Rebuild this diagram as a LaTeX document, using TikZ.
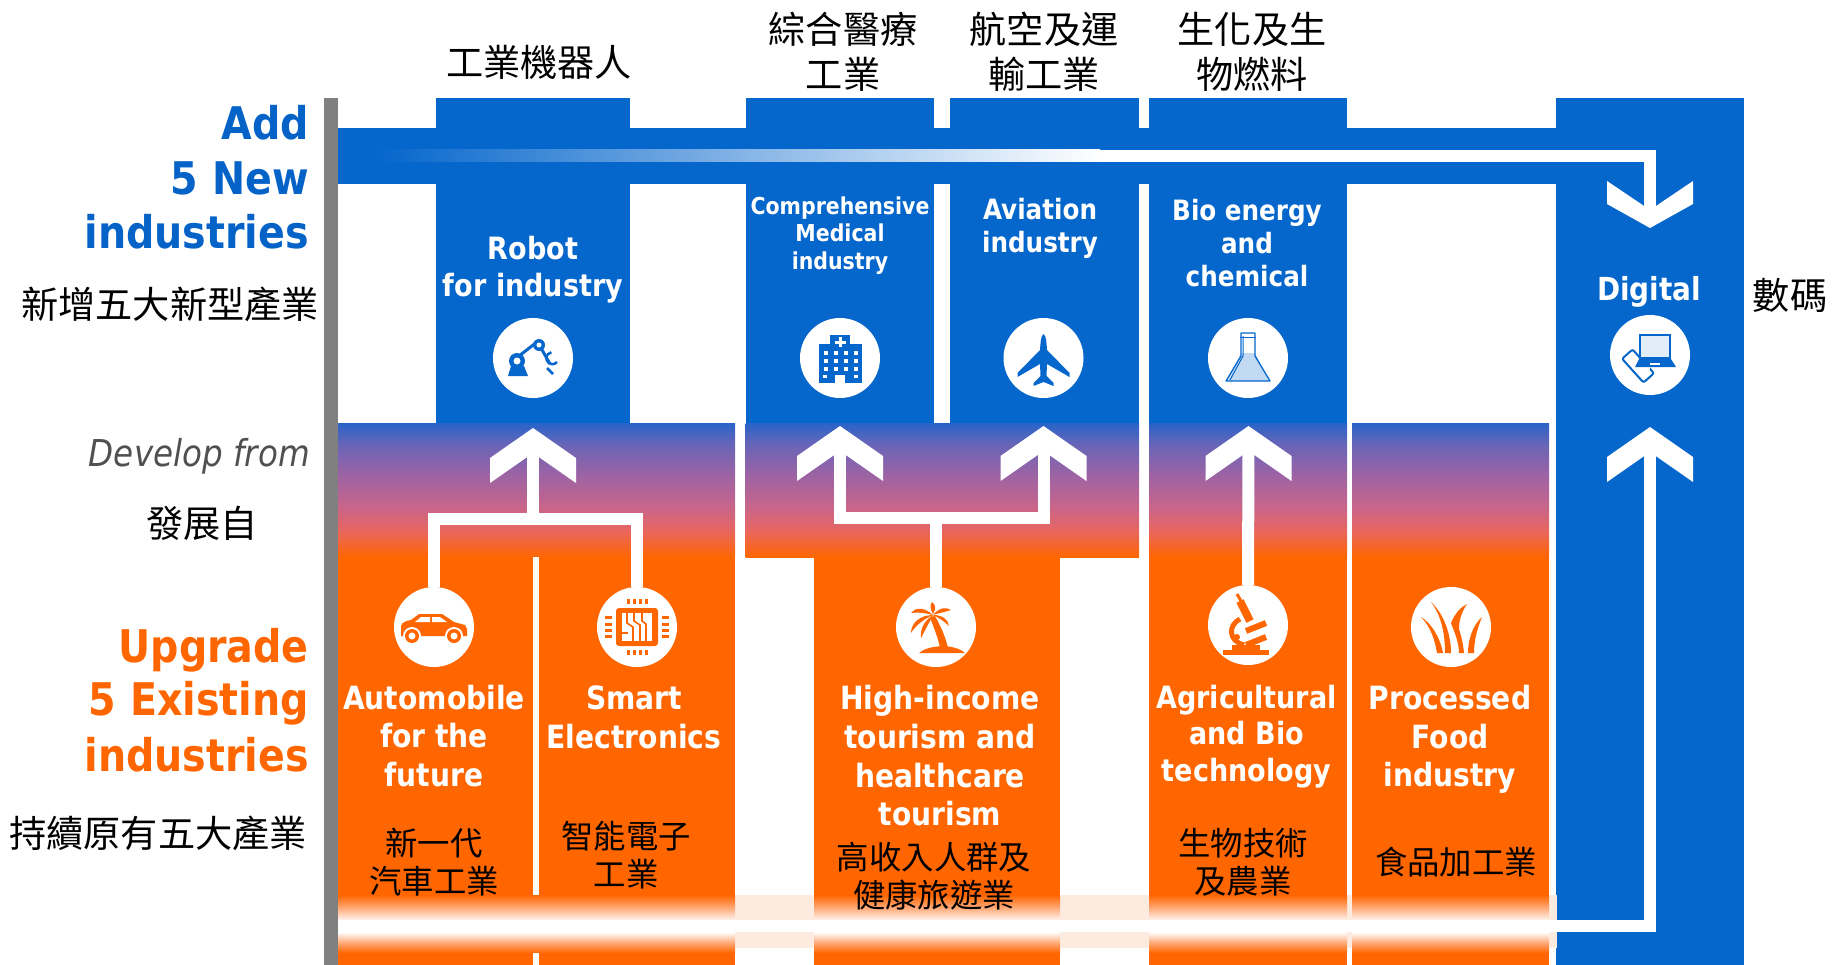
\documentclass[tikz,border=0pt]{standalone}
\usepackage{fontspec}
\newfontfamily\labfont[FakeStretch=0.88]{DejaVu Sans}
\newfontfamily\cjkfont{Noto Sans CJK TC}
\definecolor{indblue}{HTML}{0566CC}
\definecolor{indorange}{HTML}{FF6600}
\definecolor{peach}{HTML}{FDEBDF}
\definecolor{barblue}{HTML}{0563C8}
\definecolor{dgray}{HTML}{505050}
\definecolor{gradA}{HTML}{2864C8}
\definecolor{gradB}{HTML}{6565B8}
\definecolor{gradC}{HTML}{9B63A5}
\definecolor{gradD}{HTML}{C8658A}
\definecolor{gradE}{HTML}{E86660}
\definecolor{bandA}{HTML}{FFAA78}
\definecolor{bandB}{HTML}{FFF4EE}
\pgfdeclareverticalshading{riseblend}{100bp}{color(0bp)=(indorange); color(25bp)=(indorange);
 color(35bp)=(gradE); color(43.75bp)=(gradD);
 color(56.25bp)=(gradC); color(67.5bp)=(gradB);
 color(75bp)=(gradA); color(100bp)=(gradA)}
\pgfdeclareverticalshading{bandblend}{100bp}{color(0bp)=(indorange); color(25bp)=(indorange);
 color(34bp)=(bandA); color(43bp)=(white); color(53.5bp)=(bandB);
 color(64bp)=(bandA); color(75bp)=(indorange); color(100bp)=(indorange)}
\tikzset{
 wlab/.style 2 args={text=white,align=center,inner sep=0pt,font=\labfont\bfseries\fontsize{#1}{#2}\selectfont},
 cjkbig/.style={text=black,align=center,inner sep=0pt,font=\cjkfont\fontsize{37.2}{45}\selectfont},
 cjksmall/.style={text=black,align=center,inner sep=0pt,font=\cjkfont\fontsize{32.4}{38}\selectfont},
 headlab/.style 2 args={text=#1,align=right,anchor=east,inner sep=0pt,font=\labfont\bfseries\fontsize{#2}{#2}\selectfont},
 iconbase/.style={circle,fill=white,minimum size=80pt,inner sep=0pt},
 conn/.style={draw=white,line width=12pt,line join=miter},
 chevup/.pic={\fill[white] (0,0)--(43,30)--(43,55)--(0,25)--(-43,55)--(-43,30)--cycle;},
 chevdown/.pic={\fill[white] (0,0)--(43,-24)--(43,-47)--(0,-18)--(-43,-47)--(-43,-24)--cycle;},
}
\begin{document}
\begin{tikzpicture}[x=1pt,y=-1pt]
\useasboundingbox (0,0) rectangle (1835,965);
% grey axis
\fill[gray] (324,98) rectangle (338,965);
% blue structure
\fill[indblue] (338,128) rectangle (1556,184);
\foreach \a/\b in {436/630,745.5/934,950/1139,1149/1347}{\fill[indblue] (\a,98) rectangle (\b,423);}
\fill[indblue] (1556,98) rectangle (1744,965);
% peach band behind
\fill[peach] (338,895) rectangle (1557,948);
% gradient blocks
\foreach \a/\b in {338/735,745.5/1139,1149/1347,1352/1549}{\shade[shading=riseblend] (\a,423) rectangle (\b,557.5);}
% orange columns
\foreach \a/\b in {338/735,814/1060,1149/1347,1352/1549}{
 \fill[indorange] (\a,557) rectangle (\b,965);
 \shade[shading=bandblend] (\a,895) rectangle (\b,953);}
\fill[white] (532.5,557) rectangle (539,895);
\fill[white] (532.5,953) rectangle (539,965);
% icon discs
\node[iconbase] (robotIcon) at (533,358) {};
\node[iconbase] (medIcon) at (840,358) {};
\node[iconbase] (avIcon) at (1043.5,358) {};
\node[iconbase] (bioIcon) at (1248,358) {};
\node[iconbase] (digIcon) at (1650,355) {};
\node[iconbase] (autoIcon) at (434,627) {};
\node[iconbase] (smartIcon) at (637,627) {};
\node[iconbase] (tourIcon) at (936,627) {};
\node[iconbase] (agriIcon) at (1248,625) {};
\node[iconbase] (foodIcon) at (1451,627) {};
% connector points
\coordinate (robotHead) at (533,428);
\coordinate (medHead) at (840,426);
\coordinate (avHead) at (1043.5,426);
\coordinate (bioHead) at (1248.5,426);
\coordinate (digUpHead) at (1650,427);
\coordinate (digDownHead) at (1650,228);
\coordinate (robotJoin) at (533,519);
\coordinate (tourJoin) at (936,518);
\coordinate (topFade) at (1100,156);
\coordinate (lowStart) at (338,926);
% connectors
\draw[conn] (autoIcon.north) |- (robotJoin);
\draw[conn] (smartIcon.north) |- (robotJoin);
\draw[conn] (robotJoin) -- ([yshift=-20pt]robotHead);
\draw[conn] ([yshift=-22pt]medHead) |- (tourJoin);
\draw[conn] ([yshift=-22pt]avHead) |- (tourJoin);
\draw[conn] (tourIcon.north) -- (tourJoin);
\draw[conn] (agriIcon.north) -- ([yshift=-22pt]bioHead);
\shade[left color=indblue,right color=white] (375,150) rectangle (1100,162);
\draw[conn] (topFade) -| ([yshift=18pt]digDownHead);
\draw[conn] (lowStart) -| ([yshift=-22pt]digUpHead);
\pic at (robotHead) {chevup};
\pic at (medHead) {chevup};
\pic at (avHead) {chevup};
\pic at (bioHead) {chevup};
\pic at (digUpHead) {chevup};
\pic at (digDownHead) {chevdown};
% robot icon
\begin{scope}[shift={(robotIcon.center)}]
 \fill[indblue] (-25,18)--(-22,8)--(-9,8)--(-5,18)--cycle;
 \draw[indblue,line width=3pt] (-14,-2)--(4,-16);
 \draw[indblue,line width=3pt] (8,-10)--(17,6);
 \fill[indblue] (-16,3) circle[radius=8pt]; \fill[white] (-16,3) circle[radius=3.5pt];
 \fill[indblue] (6,-13) circle[radius=6pt]; \fill[white] (6,-13) circle[radius=2.5pt];
 \draw[indblue,line width=2.5pt] (24,4) arc[start angle=-40,end angle=-260,radius=6pt];
 \draw[indblue,line width=2.5pt] (14,10) -- (20,16);
\end{scope}
% hospital icon
\begin{scope}[shift={(medIcon.center)}]
 \fill[indblue] (-10,-23) rectangle (10,-14);
 \fill[indblue] (-21,-14) rectangle (22,25);
 \fill[white] (-1.5,-21) rectangle (1.5,-11);
 \fill[white] (-5.5,-17.5) rectangle (5.5,-14.5);
 \foreach \x in {-16,-6,4,14}{\foreach \y in {-7,1,9}{\fill[white] (\x,\y) rectangle +(4,4);}}
 \fill[white] (-5,17) rectangle (5,25);
 \fill[white] (-17,17) rectangle (-13,20);
 \fill[white] (14,17) rectangle (18,20);
\end{scope}
% plane icon
\begin{scope}[shift={(avIcon.center)}]
 \fill[indblue] (0,-24) .. controls (3,-22) and (3,-14) .. (3.5,-8) -- (26,15) -- (26,19) -- (3.5,6) -- (3,18) -- (10,25) -- (10,28) -- (0,24) -- (-10,28) -- (-10,25) -- (-3,18) -- (-3.5,6) -- (-26,19) -- (-26,15) -- (-3.5,-8) .. controls (-3,-14) and (-3,-22) .. (0,-24) -- cycle;
\end{scope}
% flask icon
\begin{scope}[shift={(bioIcon.center)}]
 \fill[indblue!25] (-7,-5)--(7,-5)--(21,23)--(-21,23)--cycle;
 \draw[indblue,line width=1.3pt,line join=round] (-7,-25)--(7,-25)--(7,-2)--(22,23)--(-22,23)--(-7,-2)--cycle;
 \draw[indblue,line width=1pt] (-5,-22)--(-5,-2)--(-18,22);
 \draw[indblue,line width=1pt] (-8,-21)--(8,-21);
\end{scope}
% laptop icon
\begin{scope}[shift={(digIcon.center)}]
 \draw[indblue,line width=2pt,fill=indblue!12] (-10,-20) rectangle (20,3);
 \draw[indblue,line width=2pt,rounded corners=2pt,rotate around={42:(-12,11)}] (-19,-5) rectangle (-5,27);
 \fill[white] (-11,4) rectangle (0,15);
 \fill[indblue] (-11,4)--(21,4)--(26,12)--(-15,12)--cycle;
 \fill[white] (0,8) rectangle (10,10);
\end{scope}
% car icon
\begin{scope}[shift={(autoIcon.center)}]
 \fill[indorange] (-33,9) -- (-33,-1) .. controls (-32,-5) and (-28,-6) .. (-23,-7) -- (-15,-13) -- (8,-13) -- (20,-5) -- (31,-2) -- (33,2) -- (33,9) -- cycle;
 \fill[white] (-13,-10)--(-4,-10)--(-4,-5)--(-19,-5)--cycle;
 \fill[white] (-2,-10)--(6,-10)--(13,-5)--(-2,-5)--cycle;
 \foreach \x in {-22,20}{\fill[white] (\x,9) circle[radius=9pt]; \fill[indorange] (\x,9) circle[radius=7pt]; \fill[white] (\x,9) circle[radius=3.5pt];}
\end{scope}
% chip icon
\begin{scope}[shift={(smartIcon.center)}]
 \fill[indorange,rounded corners=3pt] (-21,-19) rectangle (21,19);
 \fill[white] (-15,-14) rectangle (15,14);
 \draw[indorange,line width=1.6pt] (-10,-14)--(-10,-4)--(-4,0)--(-4,14);
 \draw[indorange,line width=1.6pt] (-3,-14)--(-3,-6)--(3,-2)--(3,14);
 \draw[indorange,line width=1.6pt] (5,-14)--(5,-6)--(9,-3)--(9,14);
 \draw[indorange,line width=1.6pt] (-15,6)--(-9,6);
 \foreach \t in {-9,-3,3,9}{
  \fill[indorange] (\t-1.5,-28) rectangle (\t+1.5,-23);
  \fill[indorange] (\t-1.5,23) rectangle (\t+1.5,28);}
 \foreach \t in {-9.5,-3,3,9.5}{
  \fill[indorange] (-32,\t-1.5) rectangle (-25,\t+1.5);
  \fill[indorange] (25,\t-1.5) rectangle (32,\t+1.5);}
\end{scope}
% palm icon
\begin{scope}[shift={(tourIcon.center)}]
 \fill[indorange] (-17,26) .. controls (-8,18) and (18,16) .. (29,26) -- cycle;
 \fill[indorange] (-6,-10) .. controls (-2,2) and (2,10) .. (4,21) -- (12,21) .. controls (9,8) and (4,-2) .. (-1,-11) -- cycle;
 \fill[indorange] (-3,-13) .. controls (-8,-22) and (-4,-24) .. (-4,-25) .. controls (0,-22) and (0,-18) .. (-3,-13) -- cycle;
 \fill[indorange] (-3,-12) .. controls (-14,-22) and (-22,-18) .. (-25,-14) .. controls (-18,-15) and (-10,-14) .. (-3,-12) -- cycle;
 \fill[indorange] (-3,-12) .. controls (-16,-12) and (-25,-4) .. (-25,6) .. controls (-20,-2) and (-12,-8) .. (-3,-12) -- cycle;
 \fill[indorange] (-3,-12) .. controls (-12,-6) and (-16,2) .. (-15,11) .. controls (-11,3) and (-7,-4) .. (-3,-12) -- cycle;
 \fill[indorange] (-3,-12) .. controls (4,-20) and (10,-20) .. (15,-17) .. controls (9,-15) and (3,-14) .. (-3,-12) -- cycle;
 \fill[indorange] (-3,-12) .. controls (6,-12) and (12,-8) .. (13,-1) .. controls (8,-6) and (3,-9) .. (-3,-12) -- cycle;
\end{scope}
% microscope icon
\begin{scope}[shift={(agriIcon.center)}]
 \fill[indorange] (-25,25) rectangle (21,30);
 \fill[indorange] (-16,20) rectangle (12,25);
 \draw[indorange,line width=8pt] (-8,-24)--(2,-4);
 \draw[indorange,line width=3pt] (-11,-31)--(-7,-24);
 \draw[indorange,line width=5pt] (-8,-6) .. controls (-20,0) and (-20,16) .. (-4,20);
 \draw[indorange,line width=6pt] (-2,6)--(18,-2);
 \draw[indorange,line width=6pt] (-2,20)--(18,12);
 \fill[indorange] (-11,12) circle[radius=3pt];
\end{scope}
% grass icon
\begin{scope}[shift={(foodIcon.center)}]
 \fill[indorange] (-14,26) .. controls (-16,14) and (-20,0) .. (-30,-10) .. controls (-20,-4) and (-11,10) .. (-8,26) -- cycle;
 \fill[indorange] (-6,26) .. controls (-6,6) and (-10,-12) .. (-20,-25) .. controls (-8,-14) and (0,6) .. (0,26) -- cycle;
 \fill[indorange] (8,26) .. controls (8,14) and (2,2) .. (0,-4) .. controls (4,-14) and (10,-20) .. (16,-23) .. controls (10,-14) and (8,-6) .. (8,2) .. controls (10,8) and (12,16) .. (13,26) -- cycle;
 \fill[indorange] (17,26) .. controls (17,12) and (22,-2) .. (31,-10) .. controls (26,2) and (23,14) .. (23,26) -- cycle;
\end{scope}
% left headings
\node[headlab={barblue}{45}] (addA) at (309,123) {Add};
\node[headlab={barblue}{45}] (addB) at (309,178) {5 New};
\node[headlab={barblue}{45}] (addC) at (309,232) {industries};
\node[headlab={indorange}{45}] (upA) at (309,650) {Upgrade};
\node[headlab={indorange}{45}] (upB) at (309,703) {5 Existing};
\node[headlab={indorange}{45}] (upC) at (309,755) {industries};
\node[text=dgray,anchor=east,inner sep=0pt,font=\labfont\itshape\fontsize{37}{37}\selectfont] (dev) at (310,456) {Develop from};
\node[cjkbig] (cnAdd) at (170,304) {新增五大新型產業};
\node[cjkbig] (cnDev) at (202,523) {發展自};
\node[cjkbig] (cnUp) at (158,833) {持續原有五大產業};
% top labels
\node[cjkbig] (tRobot) at (539,62) {工業機器人};
\node[cjkbig] (tMed) at (843,52) {綜合醫療\\工業};
\node[cjkbig] (tAv) at (1044,52) {航空及運\\輸工業};
\node[cjkbig] (tBio) at (1252,52) {生化及生\\物燃料};
\node[cjkbig] (tDig) at (1790,295) {數碼};
% white labels, blue part
\node[wlab={30.7}{37}] (lRobot) at (533,270) {Robot\\for industry};
\node[wlab={23.3}{27.5}] (lMed) at (840,235.5) {Comprehensive\\Medical\\industry};
\node[wlab={28}{33}] (lAv) at (1040,228.5) {Aviation\\industry};
\node[wlab={28}{33}] (lBioE) at (1247,243) {Bio energy\\and\\chemical};
\node[wlab={31.7}{38}] (lDig) at (1649,291.5) {Digital};
% white labels, orange part
\node[wlab={32}{38.7}] (lAuto) at (434,736) {Automobile\\for the\\future};
\node[wlab={32}{38.7}] (lSmart) at (634,717) {Smart\\Electronics};
\node[wlab={32}{38.7}] (lTour) at (940,756) {High-income\\tourism and\\healthcare\\tourism};
\node[wlab={30.7}{36.5}] (lAgri) at (1246.5,736.5) {Agricultural\\and Bio\\technology};
\node[wlab={32}{38.7}] (lFood) at (1450,739.5) {Processed\\Food\\industry};
% Chinese labels on orange
\node[cjksmall] (cAuto) at (434,862) {新一代\\汽車工業};
\node[cjksmall] (cSmart) at (626,855) {智能電子\\工業};
\node[cjksmall] (cTour) at (934,876) {高收入人群及\\健康旅遊業};
\node[cjksmall] (cAgri) at (1243,862) {生物技術\\及農業};
\node[cjksmall] (cFood) at (1456,862) {食品加工業};
\end{tikzpicture}
\end{document}
